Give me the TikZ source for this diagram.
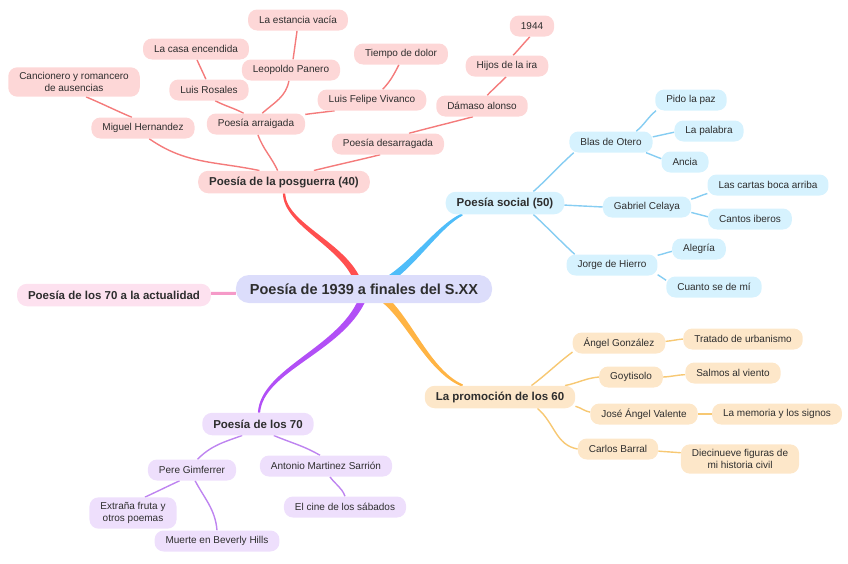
\documentclass[tikz,border=0pt]{standalone}
\usepackage{fontspec}
\setmainfont{Liberation Sans}
\usetikzlibrary{calc}
\pgfdeclarelayer{background}
\pgfsetlayers{background,main}
\definecolor{txt}{HTML}{2E2E2E}
\definecolor{redfill}{HTML}{FDD7D7}
\definecolor{bluefill}{HTML}{D6F2FE}
\definecolor{orangefill}{HTML}{FDE7C9}
\definecolor{purplefill}{HTML}{EEDFFC}
\definecolor{rootfill}{HTML}{DCDDFB}
\definecolor{pinkfill}{HTML}{FDE1EF}
\definecolor{redline}{HTML}{F47B7B}
\definecolor{blueline}{HTML}{86CDF2}
\definecolor{orangeline}{HTML}{F7C873}
\definecolor{purpleline}{HTML}{BE84F0}
\definecolor{pinkline}{HTML}{F59AC8}
\definecolor{redthick}{HTML}{FF4F4F}
\definecolor{bluethick}{HTML}{4FBDF9}
\definecolor{orangethick}{HTML}{FFB444}
\definecolor{purplethick}{HTML}{B24FF6}
% tapered branch: #1 colour, #2 thin end, #3 #4 controls, #5 thick end, #6 #7 half widths
\newcommand\taperbranch[7]{%
  \fill[#1] let \p0=(#2), \p1=(#3), \p2=(#4), \p3=(#5),
    \n0={atan2((\y1)-(\y0),(\x1)-(\x0))+90},
    \n1={atan2((\y2)-(\y0),(\x2)-(\x0))+90},
    \n2={atan2((\y3)-(\y1),(\x3)-(\x1))+90},
    \n3={atan2((\y3)-(\y2),(\x3)-(\x2))+90},
    \n4={#6+(#7-#6)/3}, \n5={#6+2*(#7-#6)/3}
  in ($(\p0)+(\n0:#6)$) .. controls ($(\p1)+(\n1:\n4)$) and ($(\p2)+(\n2:\n5)$) .. ($(\p3)+(\n3:#7)$)
    -- ($(\p3)-(\n3:#7)$) .. controls ($(\p2)-(\n2:\n5)$) and ($(\p1)-(\n1:\n4)$) .. ($(\p0)-(\n0:#6)$) -- cycle;}
\tikzset{
  leaf/.style={rounded corners=9pt, inner xsep=11pt, inner ysep=5pt, minimum height=21pt,
    font=\fontsize{10}{12}\selectfont, text=txt, align=center},
  rleaf/.style={leaf, fill=redfill},
  bleaf/.style={leaf, fill=bluefill},
  oleaf/.style={leaf, fill=orangefill},
  pleaf/.style={leaf, fill=purplefill},
  branch/.style={rounded corners=10pt, inner xsep=11pt, inner ysep=5pt, minimum height=22.5pt,
    font=\fontsize{11.5}{13}\selectfont\bfseries, text=txt},
  rootnode/.style={rounded corners=13pt, inner xsep=14pt, inner ysep=5pt, minimum height=28pt,
    font=\fontsize{14.5}{16}\selectfont\bfseries, text=txt, fill=rootfill},
  rcon/.style={draw=redline, line width=1.4pt},
  bcon/.style={draw=blueline, line width=1.4pt},
  ocon/.style={draw=orangeline, line width=1.4pt},
  pcon/.style={draw=purpleline, line width=1.4pt},
}
\begin{document}
\begin{tikzpicture}[x=1pt,y=1pt]
\useasboundingbox (0,0) rectangle (848,-563);
% root
\node[rootnode] (rt) at (364,-289) {Poesía de 1939 a finales del S.XX};
\node[branch, fill=pinkfill] (l7a) at (114,-295) {Poesía de los 70 a la actualidad};
% red branch
\node[branch, fill=redfill] (pg) at (284,-182) {Poesía de la posguerra (40)};
\node[rleaf] (mh) at (143,-128) {Miguel Hernandez};
\node[rleaf] (can) at (74,-82) {Cancionero y romancero\\de ausencias};
\node[rleaf] (arr) at (256,-124) {Poesía arraigada};
\node[rleaf] (ros) at (209,-90) {Luis Rosales};
\node[rleaf] (cas) at (196,-49) {La casa encendida};
\node[rleaf] (pan) at (291,-70) {Leopoldo Panero};
\node[rleaf] (est) at (298,-20) {La estancia vacía};
\node[rleaf] (viv) at (372,-100) {Luis Felipe Vivanco};
\node[rleaf] (tie) at (401,-54) {Tiempo de dolor};
\node[rleaf] (des) at (388,-144) {Poesía desarragada};
\node[rleaf] (dam) at (482,-106) {Dámaso alonso};
\node[rleaf] (hij) at (507,-66) {Hijos de la ira};
\node[rleaf] (n44) at (532,-26) {1944};
% blue branch
\node[branch, fill=bluefill] (soc) at (505,-203) {Poesía social (50)};
\node[bleaf] (blas) at (611,-142) {Blas de Otero};
\node[bleaf] (pido) at (691,-100) {Pido la paz};
\node[bleaf] (pal) at (709,-131) {La palabra};
\node[bleaf] (anc) at (685,-162) {Ancia};
\node[bleaf] (gab) at (647,-207) {Gabriel Celaya};
\node[bleaf] (cart) at (768,-185) {Las cartas boca arriba};
\node[bleaf] (cib) at (750,-219) {Cantos iberos};
\node[bleaf] (jor) at (612,-265) {Jorge de Hierro};
\node[bleaf] (ale) at (699,-249) {Alegría};
\node[bleaf] (cua) at (714,-287) {Cuanto se de mí};
% orange branch
\node[branch, fill=orangefill] (pro) at (500,-397) {La promoción de los 60};
\node[oleaf] (ang) at (619,-343) {Ángel González};
\node[oleaf] (tra) at (743,-339) {Tratado de urbanismo};
\node[oleaf] (goy) at (631,-377) {Goytisolo};
\node[oleaf] (sal) at (733,-373) {Salmos al viento};
\node[oleaf] (val) at (644,-414) {José Ángel Valente};
\node[oleaf] (mem) at (777,-414) {La memoria y los signos};
\node[oleaf] (bar) at (618,-449) {Carlos Barral};
\node[oleaf] (die) at (740,-459) {Diecinueve figuras de\\mi historia civil};
% purple branch
\node[branch, fill=purplefill] (l70) at (258,-424) {Poesía de los 70};
\node[pleaf] (per) at (192,-470) {Pere Gimferrer};
\node[pleaf] (ant) at (326,-466) {Antonio Martinez Sarrión};
\node[pleaf] (ext) at (133,-513) {Extraña fruta y\\otros poemas};
\node[pleaf] (mue) at (217,-541) {Muerte en Beverly Hills};
\node[pleaf] (cin) at (345,-507) {El cine de los sábados};
\begin{pgfonlayer}{background}
% main tapered branches
\taperbranch{redthick}{pg.south}{285,-225}{345,-245}{$(rt)+(-6,7)$}{1.1}{3.6}
\taperbranch{bluethick}{soc.195}{440,-225}{415,-262}{$(rt)+(24,9)$}{1.1}{3.6}
\taperbranch{orangethick}{pro.163}{430,-372}{410,-322}{$(rt)+(21,-11)$}{1.1}{3.6}
\taperbranch{purplethick}{l70.85}{262,-370}{340,-350}{$(rt)+(-2,-11)$}{1.1}{3.6}
\draw[pinkline, line width=3pt] (l7a.1) -- (rt.182);
% red connectors
\draw[rcon] (pg.155) to[out=168,in=-35] (mh.-60);
\draw[rcon] (mh.136) to[out=157,in=-23] (can.-51);
\draw[rcon] (pg.119) to[out=115,in=-70] (arr.-80);
\draw[rcon] (arr.139) to[out=152,in=-28] (ros.-60);
\draw[rcon] (ros.106) to[out=114,in=-66] (cas.-85);
\draw[rcon] (arr.60) to[out=42,in=-100] (pan.-101);
\draw[rcon] (pan.79) to[out=82,in=-98] (est.-95);
\draw[rcon] (arr.11) to[out=8,in=188] (viv.196);
\draw[rcon] (viv.45) to[out=47,in=-117] (tie.-101);
\draw[rcon] (pg.21) to[out=14,in=194] (des.-126);
\draw[rcon] (des.27) to[out=15,in=195] (dam.-130);
\draw[rcon] (dam.64) to[out=46,in=226] (hij.-95);
\draw[rcon] (hij.60) to[out=47,in=227] (n44.-101);
% blue connectors
\draw[bcon] (soc.22) to[out=42,in=222] (blas.196);
\draw[bcon] (soc.-2) to[out=-3,in=177] (gab.180);
\draw[bcon] (soc.-22) to[out=-43,in=137] (jor.164);
\draw[bcon] (blas.23) to[out=40,in=220] (pido.197);
\draw[bcon] (blas.7) to[out=12,in=192] (pal.182);
\draw[bcon] (blas.-17) to[out=-20,in=160] (anc.172);
\draw[bcon] (gab.10) to[out=15,in=195] (cart.188);
\draw[bcon] (gab.-7) to[out=-15,in=165] (cib.177);
\draw[bcon] (jor.12) to[out=13,in=193] (ale.185);
\draw[bcon] (jor.-12) to[out=-20,in=160] (cua.172);
% orange connectors
\draw[ocon] (pro.20) to[out=37,in=217] (ang.191);
\draw[ocon] (pro.10) to[out=11,in=185] (goy.180);
\draw[ocon] (pro.-7) to[out=-15,in=170] (val.178);
\draw[ocon] (pro.-17) to[out=-40,in=170] (bar.180);
\draw[ocon] (ang.2) to[out=5,in=185] (tra.180);
\draw[ocon] (goy.0) to[out=2,in=182] (sal.182);
\draw[ocon] (val.0) -- (mem.180);
\draw[ocon] (bar.-3) to[out=-5,in=175] (die.174);
% purple connectors
\draw[pcon] (l70.216) to[out=200,in=45] (per.63);
\draw[pcon] (l70.-36) to[out=-23,in=150] (ant.119);
\draw[pcon] (per.221) to[out=205,in=25] (ext.53);
\draw[pcon] (per.-74) to[out=-62,in=95] (mue.90);
\draw[pcon] (ant.-70) to[out=-55,in=110] (cin.90);
\end{pgfonlayer}
\end{tikzpicture}
\end{document}
